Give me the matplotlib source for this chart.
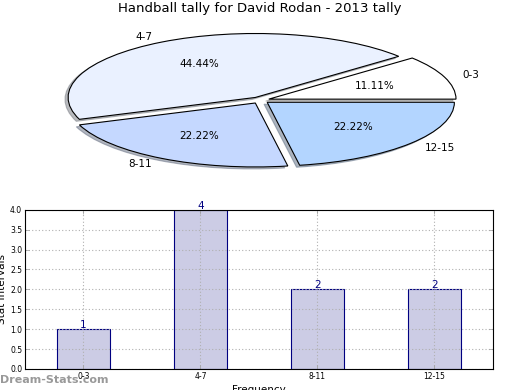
import matplotlib
matplotlib.use("Agg")
import matplotlib.pyplot as plt

categories = ["0-3", "4-7", "8-11", "12-15"]
counts = [1, 4, 2, 2]
pie_colors = ["#FFFFFF", "#EAF1FF", "#C5D8FF", "#B3D5FF"]
explode = [0.05, 0.05, 0.05, 0.05]
yticks = [0.0, 0.5, 1.0, 1.5, 2.0, 2.5, 3.0, 3.5, 4.0]

fig = plt.figure(figsize=(5.2, 3.9), dpi=100)

# Pie chart (elliptical)
ax1 = fig.add_axes([0.05, 0.538, 0.9, 0.41])
wedges, texts, autotexts = ax1.pie(
    counts, labels=categories, colors=pie_colors, explode=explode,
    autopct="%.2f%%", shadow={"ox": -0.012, "oy": -0.022, "shade": 0.5},
    startangle=0, counterclock=True,
    wedgeprops=dict(edgecolor="black", linewidth=0.8),
    textprops=dict(fontsize=7.5))
ax1.set_aspect("auto")
ax1.set_xlim(-1.25, 1.25)
ax1.set_ylim(-1.25, 1.25)
ax1.set_title("Handball tally for David Rodan - 2013 tally", fontsize=9.5, pad=6)

# Bar chart
ax2 = fig.add_axes([0.048, 0.054, 0.9, 0.408])
x = list(range(len(categories)))
bars = ax2.bar(x, counts, width=0.45, color="#CCCCE5", edgecolor="#000080",
               linewidth=0.8, zorder=1)
for xi, v in zip(x, counts):
    ax2.text(xi, v - 0.02, str(v), ha="center", va="bottom", color="#000080", fontsize=7.5)
ax2.set_xlim(-0.5, 3.5)
ax2.set_ylim(0, 4)
ax2.set_xticks(x)
ax2.set_xticklabels(categories, fontsize=5.5)
ax2.set_yticks(yticks)
ax2.set_yticklabels([f"{t:.1f}" for t in yticks], fontsize=5.5)
ax2.tick_params(direction="in", length=3, width=0.5, top=True, right=True, pad=2, color="#999999")
ax2.set_axisbelow("line")
ax2.grid(True, linestyle=(0, (1, 2)), color="#b0b0b0", linewidth=0.8)
ax2.set_ylabel("Stat Intervals", fontsize=7.5, labelpad=2)
ax2.set_xlabel("Frequency", fontsize=7.5, labelpad=3)

fig.text(0.0, 0.013, "Dream-Stats.com", color="#999999", fontsize=8, fontweight="bold",
         ha="left", va="bottom")

fig.savefig("out.png", dpi=100)
